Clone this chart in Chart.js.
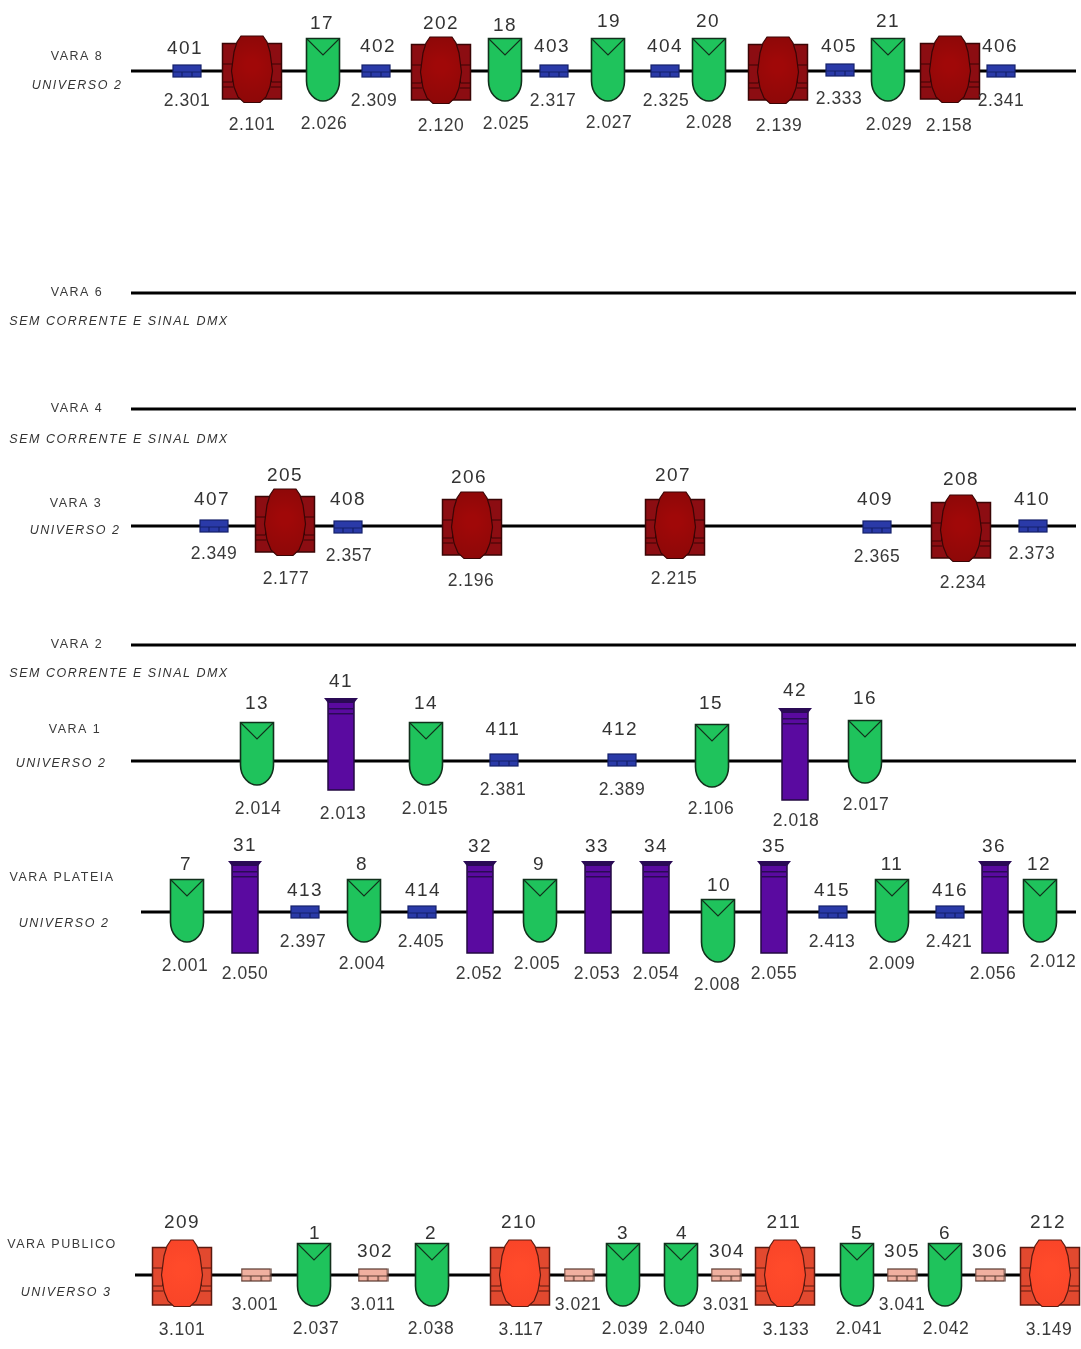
<!DOCTYPE html>
<html>
<head>
<meta charset="utf-8">
<title>Mapa de varas</title>
<script src="https://cdn.jsdelivr.net/npm/chart.js@4"></script>
<style>
    html, body { margin: 0; padding: 0; background: #fff; overflow: hidden; }
    canvas { display: block; filter: blur(0.4px); }
</style>
</head>
<body>
<canvas id="plot" width="1081" height="1349"></canvas>
<script>
// bars: [y, x start]
const bars = [
    [71, 131], [293, 131], [409, 131], [526, 131], [645, 131], [761, 131], [912, 141], [1275, 135]
];
const barEnd = 1076;

// left captions: [text, x, y]
const barNames = [
    ['VARA 8', 77, 56], ['VARA 6', 77, 292], ['VARA 4', 77, 408], ['VARA 3', 76, 503],
    ['VARA 2', 77, 644], ['VARA 1', 75, 729], ['VARA PLATEIA', 62, 877], ['VARA PUBLICO', 62, 1244]
];
const barNotes = [
    ['UNIVERSO 2', 77, 85], ['SEM CORRENTE E SINAL DMX', 119, 321], ['SEM CORRENTE E SINAL DMX', 119, 439],
    ['UNIVERSO 2', 75, 530], ['SEM CORRENTE E SINAL DMX', 119, 673], ['UNIVERSO 2', 61, 763],
    ['UNIVERSO 2', 64, 923], ['UNIVERSO 3', 66, 1292]
];

// fixture centres, one pair of lists per kind
const darkParX = [252, 441, 778, 950, 285, 472, 675, 961];
const darkParY = [70, 71, 71, 70, 523, 526, 526, 529];
const orangeParX = [182, 520, 785, 1050];
const orangeParY = [1274, 1274, 1274, 1274];
const greenX = [323, 505, 608, 709, 888, 257, 426, 712, 865, 187, 364, 540, 718, 892, 1040, 314, 432, 623, 681, 857, 945];
const greenY = [70, 70, 70, 70, 70, 754, 754, 756, 752, 911, 911, 911, 931, 911, 911, 1275, 1275, 1275, 1275, 1275, 1275];
const purpleX = [341, 795, 245, 480, 598, 656, 774, 995];
const purpleY = [744, 754, 907, 907, 907, 907, 907, 907];
const blueX = [187, 376, 554, 665, 840, 1001, 214, 348, 877, 1033, 504, 622, 305, 422, 833, 950];
const blueY = [71, 71, 71, 71, 70, 71, 526, 527, 527, 526, 760, 760, 912, 912, 912, 912];
const pinkX = [256, 373, 579, 726, 902, 990];
const pinkY = [1275, 1275, 1275, 1275, 1275, 1275];

// numbers above the fixtures: [text, x, y]
const channels = [
    ['401', 185, 48], ['17', 322, 23], ['402', 378, 46], ['202', 441, 23], ['18', 505, 25], ['403', 552, 46],
    ['19', 609, 21], ['404', 665, 46], ['20', 708, 21], ['405', 839, 46], ['21', 888, 21], ['406', 1000, 46],
    ['407', 212, 499], ['205', 285, 475], ['408', 348, 499], ['206', 469, 477], ['207', 673, 475],
    ['409', 875, 499], ['208', 961, 479], ['410', 1032, 499],
    ['13', 257, 703], ['41', 341, 681], ['14', 426, 703], ['411', 503, 729], ['412', 620, 729],
    ['15', 711, 703], ['42', 795, 690], ['16', 865, 698],
    ['7', 186, 864], ['31', 245, 845], ['413', 305, 890], ['8', 362, 864], ['414', 423, 890], ['32', 480, 846],
    ['9', 539, 864], ['33', 597, 846], ['34', 656, 846], ['10', 719, 885], ['35', 774, 846], ['415', 832, 890],
    ['11', 892, 864], ['416', 950, 890], ['36', 994, 846], ['12', 1039, 864],
    ['209', 182, 1222], ['1', 315, 1233], ['302', 375, 1251], ['2', 431, 1233], ['210', 519, 1222],
    ['3', 623, 1233], ['4', 682, 1233], ['304', 727, 1251], ['211', 784, 1222], ['5', 857, 1233],
    ['305', 902, 1251], ['6', 945, 1233], ['306', 990, 1251], ['212', 1048, 1222]
];

// addresses below the fixtures: [text, x, y]
const addresses = [
    ['2.301', 187, 100], ['2.101', 252, 124], ['2.026', 324, 123], ['2.309', 374, 100], ['2.120', 441, 125],
    ['2.025', 506, 123], ['2.317', 553, 100], ['2.027', 609, 122], ['2.325', 666, 100], ['2.028', 709, 122],
    ['2.139', 779, 125], ['2.333', 839, 98], ['2.029', 889, 124], ['2.158', 949, 125], ['2.341', 1001, 100],
    ['2.349', 214, 553], ['2.177', 286, 578], ['2.357', 349, 555], ['2.196', 471, 580], ['2.215', 674, 578],
    ['2.365', 877, 556], ['2.234', 963, 582], ['2.373', 1032, 553],
    ['2.014', 258, 808], ['2.013', 343, 813], ['2.015', 425, 808], ['2.381', 503, 789], ['2.389', 622, 789],
    ['2.106', 711, 808], ['2.018', 796, 820], ['2.017', 866, 804],
    ['2.001', 185, 965], ['2.050', 245, 973], ['2.397', 303, 941], ['2.004', 362, 963], ['2.405', 421, 941],
    ['2.052', 479, 973], ['2.005', 537, 963], ['2.053', 597, 973], ['2.054', 656, 973], ['2.008', 717, 984],
    ['2.055', 774, 973], ['2.413', 832, 941], ['2.009', 892, 963], ['2.421', 949, 941], ['2.056', 993, 973],
    ['2.012', 1053, 961],
    ['3.101', 182, 1329], ['3.001', 255, 1304], ['2.037', 316, 1328], ['3.011', 373, 1304], ['2.038', 431, 1328],
    ['3.117', 521, 1329], ['3.021', 578, 1304], ['2.039', 625, 1328], ['2.040', 682, 1328], ['3.031', 726, 1304],
    ['3.133', 786, 1329], ['2.041', 859, 1328], ['3.041', 902, 1304], ['2.042', 946, 1328], ['3.149', 1049, 1329]
];

function sprite(w, h, paint) {
    const c = document.createElement('canvas');
    c.width = w;
    c.height = h;
    paint(c.getContext('2d'));
    return c;
}

// PAR can seen from the side, body plus long oval lens
function parSprite(body, lensMid, lensEdge, edge, bodyBottom) {
    return sprite(62, 70, (g) => {
        g.lineWidth = 1.5;
        g.strokeStyle = edge;
        g.fillStyle = body;
        g.fillRect(1.5, 8.5, 59, bodyBottom - 8.5);
        g.strokeRect(1.5, 8.5, 59, bodyBottom - 8.5);
        g.lineWidth = 1;
        g.beginPath();
        // side brackets and the brick lines on the body
        g.rect(1.5, 29, 10, 18);
        g.rect(50.5, 29, 10, 18);
        g.moveTo(1.5, 52); g.lineTo(12, 52);
        g.moveTo(50, 52); g.lineTo(60.5, 52);
        g.stroke();
        g.beginPath();
        g.moveTo(20, 1); g.lineTo(42, 1); g.lineTo(46, 7); g.lineTo(49, 17); g.lineTo(51.5, 36);
        g.lineTo(49, 52); g.lineTo(45, 62); g.lineTo(39, 67.5); g.lineTo(23, 67.5); g.lineTo(17, 62);
        g.lineTo(13, 52); g.lineTo(10.5, 36); g.lineTo(13, 17); g.lineTo(16, 7);
        g.closePath();
        const shade = g.createRadialGradient(31, 30, 6, 31, 34, 36);
        shade.addColorStop(0, lensMid);
        shade.addColorStop(1, lensEdge);
        g.fillStyle = shade;
        g.fill();
        g.lineWidth = 1.2;
        g.stroke();
    });
}

const greenSprite = sprite(36, 66, (g) => {
    g.beginPath();
    g.moveTo(1.5, 1.5); g.lineTo(34.5, 1.5); g.lineTo(34.5, 44);
    g.bezierCurveTo(34.5, 56, 26, 64, 18, 64);
    g.bezierCurveTo(10, 64, 1.5, 56, 1.5, 44);
    g.closePath();
    g.fillStyle = '#1fc35c';
    g.fill();
    g.lineWidth = 1.6;
    g.strokeStyle = '#12301c';
    g.stroke();
    g.beginPath();
    g.moveTo(2, 2); g.lineTo(18, 18); g.lineTo(34, 2);
    g.lineWidth = 1.1;
    g.stroke();
});

const purpleSprite = sprite(36, 94, (g) => {
    g.fillStyle = '#5a0aa0';
    g.fillRect(5, 5, 26, 88);
    g.lineWidth = 1.5;
    g.strokeStyle = '#230a42';
    g.strokeRect(5, 5, 26, 88);
    g.fillStyle = '#2a0a55';
    g.beginPath();
    g.moveTo(1, 1); g.lineTo(35, 1); g.lineTo(31, 6); g.lineTo(5, 6);
    g.closePath();
    g.fill();
    g.fillRect(5, 11, 26, 1.5);
    g.fillRect(5, 16, 26, 1.5);
});

function fluoSprite(fill, line, w, h) {
    return sprite(w, h, (g) => {
        g.fillStyle = fill;
        g.fillRect(1, 1, w - 2, h - 2);
        g.lineWidth = 1.2;
        g.strokeStyle = line;
        g.strokeRect(1, 1, w - 2, h - 2);
        g.beginPath();
        g.moveTo(1, h / 2 + 1); g.lineTo(w - 1, h / 2 + 1);
        g.moveTo(w / 3, h / 2 + 1); g.lineTo(w / 3, h - 1);
        g.moveTo(2 * w / 3, h / 2 + 1); g.lineTo(2 * w / 3, h - 1);
        g.stroke();
    });
}

function pairs(xs, ys) {
    return xs.map((x, i) => ({ x, y: ys[i] }));
}

function fixtureSet(xs, ys, style) {
    return { data: pairs(xs, ys), pointStyle: style, pointRadius: 30, showLine: false, order: 1, clip: false };
}

const lineSets = bars.map(([y, start]) => ({
    data: [{ x: start, y }, { x: barEnd, y }],
    showLine: true,
    borderColor: '#000',
    borderWidth: 3,
    pointRadius: 0,
    order: 10
}));

const textPlugin = {
    id: 'fixtureText',
    afterDatasetsDraw(chart) {
        const { ctx, scales } = chart;
        const put = (rows, font, color, spacing) => {
            ctx.font = font;
            ctx.fillStyle = color;
            ctx.letterSpacing = spacing;
            rows.forEach(([text, x, y]) => ctx.fillText(text, scales.x.getPixelForValue(x), scales.y.getPixelForValue(y) + 1));
        };
        ctx.save();
        ctx.textAlign = 'center';
        ctx.textBaseline = 'middle';
        put(channels, '19px "Liberation Sans"', '#333', '1.5px');
        put(addresses, '17.5px "Liberation Sans"', '#3a3a3a', '0.5px');
        put(barNames, '12.5px "Liberation Sans"', '#3a3a3a', '1.5px');
        put(barNotes, 'italic 12.5px "Liberation Sans"', '#333', '1.5px');
        ctx.restore();
    }
};

new Chart(document.getElementById('plot'), {
    type: 'scatter',
    data: {
        datasets: [
            fixtureSet(darkParX, darkParY, parSprite('#8c0d12', '#a00808', '#8c0808', '#3a0505', 64)),
            fixtureSet(orangeParX, orangeParY, parSprite('#e2492f', '#ff4a2a', '#f84428', '#5a1a10', 66)),
            fixtureSet(greenX, greenY, greenSprite),
            fixtureSet(purpleX, purpleY, purpleSprite),
            fixtureSet(blueX, blueY, fluoSprite('#2a3aa8', '#14206a', 30, 14)),
            fixtureSet(pinkX, pinkY, fluoSprite('#f0b0a0', '#5a3a30', 31, 14)),
            ...lineSets
        ]
    },
    options: {
        responsive: false,
        animation: false,
        layout: { padding: 0, autoPadding: false },
        scales: {
            x: { type: 'linear', min: 0, max: 1081, display: false },
            y: { type: 'linear', min: 0, max: 1349, reverse: true, display: false }
        },
        plugins: { legend: { display: false }, tooltip: { enabled: false } }
    },
    plugins: [textPlugin]
});
</script>
</body>
</html>
